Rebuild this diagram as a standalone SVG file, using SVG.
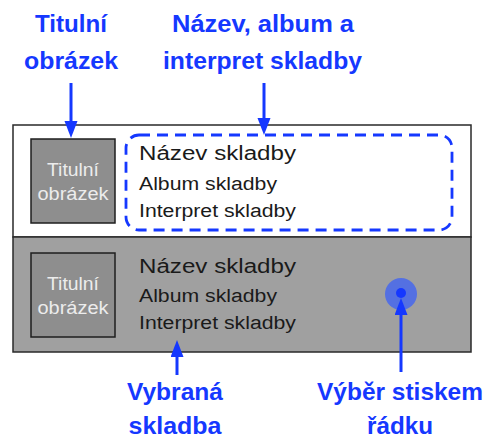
<svg xmlns="http://www.w3.org/2000/svg" width="487" height="439" viewBox="0 0 487 439">
  <style>
    .label { font-family: "Liberation Sans", Arial, Helvetica, sans-serif; font-weight: bold; font-size: 24px; fill: #1538ff; text-anchor: middle; }
    .row { stroke: #2a2a2a; stroke-width: 1.5; }
    .thumb { fill: #8e8e8e; stroke: #1e1e1e; stroke-width: 1.5; }
    .thumbtext { font-family: "Liberation Sans", Arial, Helvetica, sans-serif; font-size: 18px; fill: #ececec; text-anchor: middle; }
    .title { font-family: "Liberation Sans", Arial, Helvetica, sans-serif; font-size: 20px; fill: #1a1a1a; }
    .sub { font-family: "Liberation Sans", Arial, Helvetica, sans-serif; font-size: 18px; fill: #1a1a1a; }
    .conn { stroke: #1538ff; stroke-width: 3; fill: none; }
  </style>
  <defs>
    <marker id="head" markerUnits="userSpaceOnUse" markerWidth="18" markerHeight="14" refX="2" refY="6.5" orient="auto">
      <path d="M0,0 L17,6.5 L0,13 z" fill="#1538ff"/>
    </marker>
  </defs>

  <rect width="487" height="439" fill="#ffffff"/>

  <!-- list row: normal state -->
  <g id="row-normal">
    <rect class="row" x="13" y="125" width="458" height="112" fill="#ffffff"/>
    <rect class="thumb" x="31" y="139" width="84" height="84"/>
    <text class="thumbtext" x="73" y="176" textLength="52" lengthAdjust="spacingAndGlyphs">Titulní</text>
    <text class="thumbtext" x="73" y="200" textLength="71" lengthAdjust="spacingAndGlyphs">obrázek</text>
    <text class="title" x="139" y="160" textLength="157" lengthAdjust="spacingAndGlyphs">Název skladby</text>
    <text class="sub" x="139" y="190" textLength="138" lengthAdjust="spacingAndGlyphs">Album skladby</text>
    <text class="sub" x="139" y="217" textLength="157" lengthAdjust="spacingAndGlyphs">Interpret skladby</text>
  </g>

  <!-- list row: selected state -->
  <g id="row-selected">
    <rect class="row" x="13" y="237" width="458" height="115" fill="#a0a0a0"/>
    <rect class="thumb" x="31" y="253" width="84" height="84"/>
    <text class="thumbtext" x="73" y="290" textLength="52" lengthAdjust="spacingAndGlyphs">Titulní</text>
    <text class="thumbtext" x="73" y="314" textLength="71" lengthAdjust="spacingAndGlyphs">obrázek</text>
    <text class="title" x="139" y="273" textLength="157" lengthAdjust="spacingAndGlyphs">Název skladby</text>
    <text class="sub" x="139" y="302" textLength="138" lengthAdjust="spacingAndGlyphs">Album skladby</text>
    <text class="sub" x="139" y="329" textLength="157" lengthAdjust="spacingAndGlyphs">Interpret skladby</text>
  </g>

  <!-- highlight around the text block -->
  <g id="text-highlight">
    <rect x="126" y="135" width="326" height="95" rx="13" ry="13" fill="none" stroke="#1538ff" stroke-width="2.8" stroke-dasharray="11 7"/>
  </g>

  <!-- touch point -->
  <g id="touch">
    <circle cx="401" cy="294" r="16" fill="#5470e2"/>
    <circle cx="401" cy="293" r="5" fill="#1538ff"/>
  </g>

  <!-- callout labels -->
  <g id="label-artwork">
    <text class="label" x="71" y="32" textLength="72" lengthAdjust="spacingAndGlyphs">Titulní</text>
    <text class="label" x="71" y="69" textLength="94" lengthAdjust="spacingAndGlyphs">obrázek</text>
  </g>
  <g id="label-info">
    <text class="label" x="263" y="32" textLength="182" lengthAdjust="spacingAndGlyphs">Název, album a</text>
    <text class="label" x="262.5" y="69" textLength="199" lengthAdjust="spacingAndGlyphs">interpret skladby</text>
  </g>
  <g id="label-selected">
    <text class="label" x="175" y="400" textLength="96" lengthAdjust="spacingAndGlyphs">Vybraná</text>
    <text class="label" x="175" y="434" textLength="93" lengthAdjust="spacingAndGlyphs">skladba</text>
  </g>
  <g id="label-tap">
    <text class="label" x="400" y="400" textLength="166" lengthAdjust="spacingAndGlyphs">Výběr stiskem</text>
    <text class="label" x="400" y="434" textLength="66" lengthAdjust="spacingAndGlyphs">řádku</text>
  </g>

  <!-- connectors -->
  <g id="connectors">
    <line class="conn" x1="71" y1="83" x2="71" y2="123" marker-end="url(#head)"/>
    <line class="conn" x1="264" y1="83" x2="264" y2="120" marker-end="url(#head)"/>
    <line class="conn" x1="177" y1="375" x2="177" y2="355" marker-end="url(#head)"/>
    <line class="conn" x1="401" y1="372" x2="401" y2="313" marker-end="url(#head)"/>
  </g>
</svg>
